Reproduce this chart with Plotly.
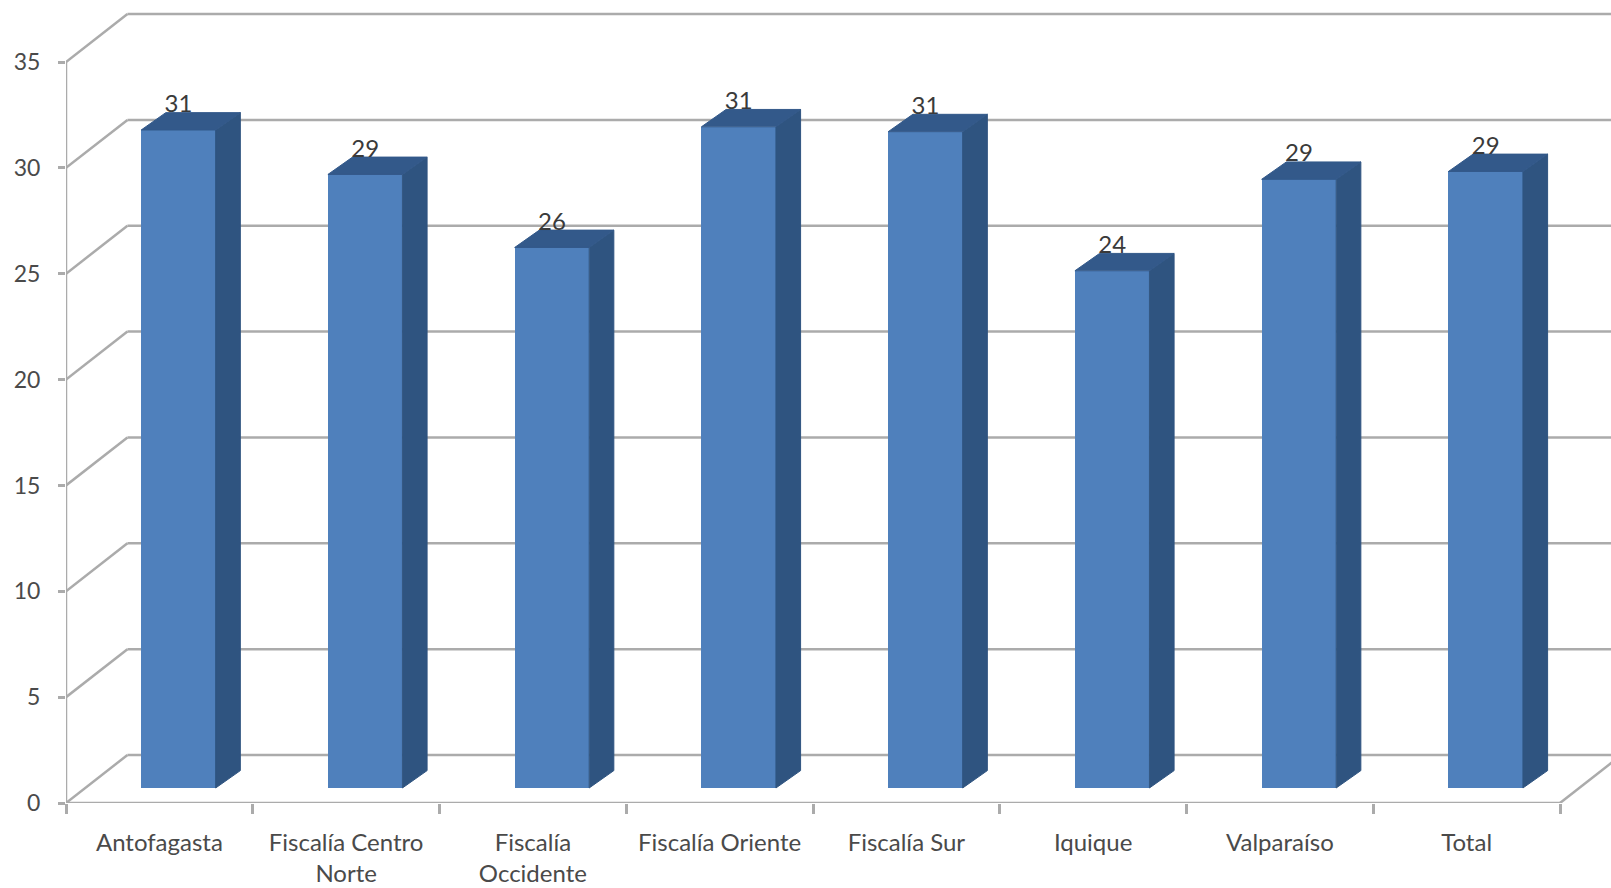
import plotly.graph_objects as go

categories = ["Antofagasta", "Fiscalía Centro<br>Norte", "Fiscalía<br>Occidente", "Fiscalía Oriente",
              "Fiscalía Sur", "Iquique", "Valparaíso", "Total"]
values = [31.08, 28.98, 25.53, 31.23, 31.0, 24.43, 28.75, 29.12]
data_labels = ["31", "29", "26", "31", "31", "24", "29", "29"]
y_ticks = [0, 5, 10, 15, 20, 25, 30, 35]

WALL_DX, WALL_DY = 0.329, 2.267      # depth of the chart box, in axis units
BAR_DX, BAR_DY = 0.132, 0.82         # depth of a bar
BAR_SHIFT, BAR_BASE = 0.102, 0.71    # position of a bar's front face on the floor
BAR_W = 0.399
XMAX, YMAX = 8.273, 37.93
GRID = "#ABABAB"
LINE_W = 2.5
FRONT, SIDE, TOP = "#4F80BC", "#2F5480", "#33598A"
TEXT = "#4A4A4A"

n = len(categories)
fig = go.Figure()

# back wall, side wall and floor sit below the bars
for t in y_ticks:
    fig.add_shape(type="line", xref="x", yref="y", x0=0, y0=t, x1=WALL_DX, y1=t + WALL_DY, layer="below",
                  line=dict(color=GRID, width=LINE_W))
    fig.add_shape(type="line", xref="x", yref="y", x0=WALL_DX, y0=t + WALL_DY, x1=9, y1=t + WALL_DY, layer="below",
                  line=dict(color=GRID, width=LINE_W))
fig.add_shape(type="line", xref="x", yref="y", x0=n, y0=0, x1=n + WALL_DX, y1=WALL_DY, layer="below",
              line=dict(color=GRID, width=LINE_W))

# front edges of the box
fig.add_trace(go.Scatter(x=[0, 0, n], y=[max(y_ticks), 0, 0], mode="lines", cliponaxis=False,
                         line=dict(color=GRID, width=LINE_W), hoverinfo="skip"))

centers = [i + 0.5 + BAR_SHIFT for i in range(n)]

# front faces
fig.add_trace(go.Bar(x=centers, y=values, base=BAR_BASE, width=BAR_W, marker=dict(color=FRONT, line=dict(width=0)),
                     hoverinfo="skip"))

# side faces and top faces, derived from the values
sx, sy, tx, ty = [], [], [], []
for c, v in zip(centers, values):
    l, r = c - BAR_W / 2, c + BAR_W / 2
    top = v + BAR_BASE
    sx += [r, r + BAR_DX, r + BAR_DX, r, r, None]
    sy += [BAR_BASE, BAR_BASE + BAR_DY, top + BAR_DY, top, BAR_BASE, None]
    tx += [l, l + BAR_DX, r + BAR_DX, r, l, None]
    ty += [top, top + BAR_DY, top + BAR_DY, top, top, None]
fig.add_trace(go.Scatter(x=sx, y=sy, mode="lines", line=dict(color=SIDE, width=1), fill="toself", fillcolor=SIDE,
                         hoverinfo="skip"))
fig.add_trace(go.Scatter(x=tx, y=ty, mode="lines", line=dict(color=TOP, width=1), fill="toself", fillcolor=TOP,
                         hoverinfo="skip"))

# data labels
fig.add_trace(go.Scatter(x=centers, y=[v + BAR_BASE + 1.13 for v in values], mode="text", text=data_labels,
                         textposition="middle center", textfont=dict(family="Lato", size=24, color="#3A3A3A"),
                         hoverinfo="skip"))

# invisible trace bound to the axis carrying the category labels
fig.add_trace(go.Scatter(x=[i + 0.5 for i in range(n)], y=[0] * n, xaxis="x2", mode="none", hoverinfo="skip"))

fig.update_layout(
    width=1611, height=888, autosize=False, showlegend=False,
    margin=dict(l=65.5, r=0, t=0, b=85, pad=0),
    paper_bgcolor="white", plot_bgcolor="white", bargap=0,
    xaxis=dict(range=[0, XMAX], tickmode="array", tickvals=list(range(n + 1)), ticktext=[""] * (n + 1),
               ticks="outside", ticklen=10, tickwidth=2.5, tickcolor=GRID, showgrid=False, zeroline=False,
               showline=False, fixedrange=True, automargin=False),
    xaxis2=dict(range=[0, XMAX], overlaying="x", anchor="y", side="bottom", tickmode="array",
                tickvals=[i + 0.5 for i in range(n)], ticktext=categories, ticks="", ticklabelstandoff=23,
                tickangle=0, tickfont=dict(family="Lato", size=24, color=TEXT), showgrid=False, zeroline=False,
                showline=False, fixedrange=True, automargin=False),
    yaxis=dict(range=[0, YMAX], tickmode="array", tickvals=y_ticks, ticks="outside", ticklen=7, tickwidth=2.5,
               tickcolor=GRID, showgrid=False, zeroline=False, showline=False, ticklabelstandoff=13,
               tickfont=dict(family="Lato", size=23, color=TEXT), fixedrange=True, automargin=False),
)

fig.write_html("out.html", config=dict(displayModeBar=False),
               post_script="document.body.style.margin='0';document.documentElement.style.overflow='hidden';")
